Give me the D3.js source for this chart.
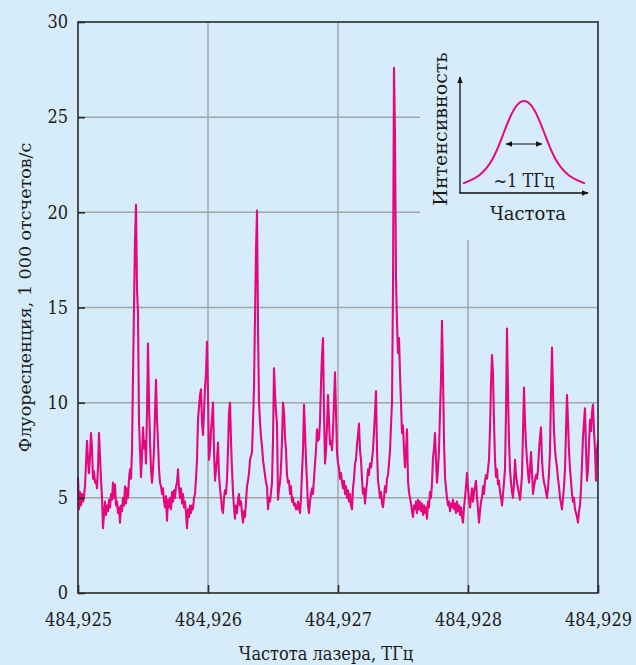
<!DOCTYPE html>
<html>
<head>
<meta charset="utf-8">
<script src="https://cdn.jsdelivr.net/npm/d3@7.9.0/dist/d3.min.js"></script>
<style>
  html, body { margin: 0; padding: 0; background: #d6ecfb; }
  svg { display: block; font-family: "DejaVu Serif Condensed", "DejaVu Serif", serif; }
</style>
</head>
<body>
<svg id="chart" width="636" height="665"></svg>
<script>
// laser scan range, THz
const scanStart = 484.925;
const scanEnd = 484.929;

// fluorescence, 1000 counts/s at even frequency steps
const fluorescence = [
  6.1, 4.4, 5.3, 4.6, 5.2, 4.8, 5.1, 5.6, 6.8, 8.0,
  7.0, 6.3, 7.2, 8.4, 7.6, 6.0, 6.4, 5.8, 5.9, 5.5,
  6.6, 8.4, 7.2, 6.0, 5.0, 3.4, 4.2, 4.8, 4.1, 4.6,
  4.3, 4.9, 4.5, 5.2, 4.9, 5.8, 5.0, 5.7, 4.6, 4.8,
  4.2, 4.5, 3.7, 4.6, 4.3, 5.0, 4.6, 5.6, 4.7, 5.5,
  5.0, 6.0, 6.5, 6.0, 7.5, 11.4, 15.0, 18.5, 20.4, 16.0,
  14.7, 9.0, 7.5, 6.1, 7.2, 8.7, 7.6, 8.0, 6.8, 9.5,
  13.1, 10.0, 8.0, 6.5, 5.8, 6.5, 7.5, 9.5, 11.2, 9.1,
  8.0, 6.5, 5.8, 5.6, 5.2, 5.5, 4.8, 4.5, 5.1, 3.8,
  4.9, 4.5, 5.0, 4.4, 5.3, 4.8, 5.4, 5.0, 5.6, 5.8,
  6.5, 5.5, 5.0, 5.5, 4.7, 5.2, 4.5, 4.8, 4.2, 3.4,
  4.4, 4.0, 4.6, 4.2, 4.6, 4.4, 5.0, 5.2, 6.0, 7.0,
  9.1, 9.8, 10.4, 10.7, 9.0, 8.3, 9.5, 10.8, 11.5, 13.2,
  10.5, 7.0, 7.5, 8.5, 9.2, 10.0, 7.5, 5.9, 6.5, 7.0,
  7.9, 6.2, 5.5, 5.0, 4.4, 4.2, 5.0, 5.4, 5.2, 6.0,
  7.5, 9.5, 10.0, 8.0, 6.5, 5.3, 4.5, 3.9, 4.6, 4.2,
  4.9, 5.2, 4.6, 4.8, 4.2, 3.7, 4.3, 4.0, 4.8, 5.6,
  5.9, 6.3, 7.0, 7.2, 7.4, 9.0, 10.8, 14.5, 18.0, 20.1,
  14.0, 10.0, 9.0, 8.2, 7.7, 7.0, 6.6, 6.2, 5.8, 5.6,
  4.4, 5.0, 4.8, 5.3, 5.8, 8.0, 11.8, 10.5, 9.5, 8.9,
  4.9, 5.5, 5.8, 6.6, 8.0, 10.0, 9.5, 8.2, 7.5, 6.2,
  5.8, 5.9, 5.2, 5.6, 4.8, 5.0, 4.6, 4.7, 4.4, 4.4,
  4.8, 4.5, 4.2, 5.0, 6.3, 7.5, 9.9, 8.5, 7.0, 5.8,
  4.6, 4.2, 4.8, 5.2, 5.5, 5.2, 6.0, 6.8, 7.5, 8.6,
  8.0, 8.1, 9.0, 11.0, 12.5, 13.4, 9.5, 6.8, 7.5, 8.8,
  10.4, 9.0, 7.8, 8.0, 7.5, 8.5, 10.0, 11.6, 9.5, 7.4,
  6.8, 6.6, 6.0, 6.3, 5.8, 5.5, 5.9, 5.2, 5.6, 5.0,
  5.4, 4.8, 5.2, 4.6, 4.4, 5.5, 6.0, 6.8, 7.0, 7.8,
  8.3, 8.9, 7.5, 7.0, 6.0, 5.2, 5.5, 4.7, 5.3, 5.8,
  6.5, 6.2, 6.8, 6.6, 7.0, 7.5, 8.5, 9.5, 10.6, 7.5,
  5.9, 5.5, 5.0, 5.3, 4.7, 4.5, 5.0, 5.6, 5.3, 6.0,
  6.2, 6.8, 7.5, 8.8, 10.0, 16.0, 27.6, 24.0, 16.5, 14.2,
  12.6, 13.4, 11.5, 10.0, 8.4, 8.8, 7.5, 6.6, 7.5, 8.6,
  5.9, 5.3, 5.0, 4.7, 4.3, 4.0, 4.6, 4.4, 4.8, 4.2,
  4.9, 4.4, 4.8, 4.3, 4.7, 4.1, 4.6, 4.2, 4.5, 3.9,
  4.8, 4.5, 5.3, 5.0, 5.8, 7.1, 7.6, 8.4, 7.0, 5.8,
  6.5, 7.5, 9.5, 11.2, 14.3, 11.5, 8.0, 6.1, 5.5, 5.0,
  4.6, 4.8, 4.3, 4.7, 4.5, 4.9, 4.4, 4.7, 4.2, 4.8,
  4.3, 4.6, 4.1, 4.5, 4.0, 3.7, 4.5, 5.0, 5.6, 6.3,
  5.5, 4.9, 4.5, 5.0, 5.5, 4.8, 5.3, 5.6, 5.9, 5.0,
  4.4, 3.7, 4.3, 4.8, 5.0, 5.6, 5.2, 5.9, 6.2, 6.0,
  6.5, 7.0, 8.6, 11.0, 12.5, 11.5, 9.0, 7.0, 6.1, 6.5,
  5.7, 5.9, 5.3, 5.0, 4.6, 5.2, 5.8, 6.5, 9.5, 13.9,
  10.5, 8.0, 6.5, 5.8, 5.3, 5.0, 5.8, 7.0, 6.2, 5.8,
  5.5, 5.2, 4.9, 5.5, 6.2, 8.5, 10.8, 9.0, 7.8, 7.0,
  6.3, 5.8, 6.5, 7.4, 6.4, 5.2, 5.6, 5.9, 6.2, 6.0,
  6.5, 7.5, 8.2, 8.7, 7.0, 6.2, 5.8, 5.6, 5.3, 5.0,
  5.5, 6.3, 7.5, 10.5, 12.9, 10.5, 8.5, 7.5, 7.0, 6.6,
  6.0, 5.6, 5.0, 4.7, 4.4, 5.0, 5.6, 6.5, 8.5, 10.4,
  9.0, 7.5, 6.5, 5.9, 5.2, 4.8, 5.0, 4.4, 4.2, 4.0,
  3.7, 4.3, 4.6, 5.5, 6.8, 8.2, 9.0, 9.7, 7.5, 5.9,
  6.5, 7.8, 9.1, 8.5, 9.5, 9.9, 8.5, 7.5, 5.9, 7.5,
  8.0
];

const freqTicks = [484.925, 484.926, 484.927, 484.928, 484.929];
const countTicks = [0, 5, 10, 15, 20, 25, 30];

// inset: schematic line profile (relative frequency, relative intensity)
const insetFreq = [-3, -2.2, -1.5, -1, -0.5, 0, 0.5, 1, 1.5, 2.2, 3];
const insetIntensity = [0.04, 0.11, 0.30, 0.61, 0.90, 1.0, 0.90, 0.61, 0.30, 0.11, 0.04];
const insetWidth = [-0.88, 0.88];

const margin = { top: 22, right: 38, bottom: 72, left: 78 };
const W = 636, H = 665;
const innerW = W - margin.left - margin.right;
const innerH = H - margin.top - margin.bottom;

const pink = "#e5077d";
const grid = "#a3a6a8";
const frame = "#2a2a2a";
const ink = "#1a1a1a";
const wideSerif = "\"DejaVu Serif\", serif";

const svg = d3.select("#chart");
const g = svg.append("g").attr("transform", `translate(${margin.left},${margin.top})`);

const x = d3.scaleLinear().domain([scanStart, scanEnd]).range([0, innerW]);
const y = d3.scaleLinear().domain([0, 30]).range([innerH, 0]);
const step = d3.scaleLinear().domain([0, fluorescence.length - 1]).range([scanStart, scanEnd]);

// grid
g.append("g").selectAll("line")
  .data(countTicks.slice(1, -1))
  .join("line")
  .attr("x1", 0).attr("x2", innerW)
  .attr("y1", d => y(d)).attr("y2", d => y(d))
  .attr("stroke", grid).attr("stroke-width", 1.5);

g.append("g").selectAll("line")
  .data(freqTicks.slice(1, -1))
  .join("line")
  .attr("x1", d => x(d)).attr("x2", d => x(d))
  .attr("y1", 0).attr("y2", innerH)
  .attr("stroke", grid).attr("stroke-width", 1.5);

// clear the grid behind the inset
const inset = { x0: 342, x1: innerW - 1, y0: 1, y1: 218 };
g.append("rect")
  .attr("x", inset.x0).attr("y", inset.y0)
  .attr("width", inset.x1 - inset.x0).attr("height", inset.y1 - inset.y0)
  .attr("fill", "#d6ecfb");

// trace
const line = d3.line()
  .x((d, i) => x(step(i)))
  .y(d => y(d));

g.append("path")
  .datum(fluorescence)
  .attr("d", line)
  .attr("fill", "none")
  .attr("stroke", pink)
  .attr("stroke-width", 2.1)
  .attr("stroke-linejoin", "round");

// frame
g.append("rect")
  .attr("width", innerW).attr("height", innerH)
  .attr("fill", "none").attr("stroke", frame).attr("stroke-width", 1.6);

// axes
const xAxis = d3.axisBottom(x)
  .tickValues(freqTicks)
  .tickSize(-8)
  .tickPadding(20)
  .tickFormat(d => d.toFixed(3).replace(".", ","));

const yAxis = d3.axisLeft(y)
  .tickValues(countTicks)
  .tickSize(-7)
  .tickPadding(10);

const gx = g.append("g").attr("transform", `translate(0,${innerH})`).call(xAxis);
const gy = g.append("g").call(yAxis);

[gx, gy].forEach(a => {
  a.select(".domain").remove();
  a.selectAll(".tick line").attr("stroke", frame).attr("stroke-width", 1.6);
  a.selectAll(".tick text")
    .attr("fill", ink)
    .style("font-size", "18px")
    .style("font-family", "\"DejaVu Serif Condensed\", \"DejaVu Serif\", serif");
});

// axis titles
svg.append("text")
  .attr("x", 326)
  .attr("y", 660)
  .attr("text-anchor", "middle")
  .attr("fill", ink)
  .style("font-size", "18px")
  .text("Частота лазера, ТГц");

svg.append("text")
  .attr("transform", `translate(31,${margin.top + innerH / 2 - 10}) rotate(-90)`)
  .attr("text-anchor", "middle")
  .attr("fill", ink)
  .style("font-size", "17.5px")
  .style("font-family", wideSerif)
  .text("Флуоресценция, 1 000 отсчетов/с");

// inset drawing
const ix = d3.scaleLinear().domain([-3, 3]).range([463, 585]);
const iy = d3.scaleLinear().domain([0, 1]).range([187, 98]);

const defs = svg.append("defs");
defs.append("marker")
  .attr("id", "arrow")
  .attr("viewBox", "0 0 10 10")
  .attr("refX", 9).attr("refY", 5)
  .attr("markerWidth", 7).attr("markerHeight", 7)
  .attr("markerUnits", "userSpaceOnUse")
  .attr("orient", "auto-start-reverse")
  .append("path")
  .attr("d", "M0,1 L10,5 L0,9 Z")
  .attr("fill", "#111");

const ig = svg.append("g");

ig.append("line")
  .attr("x1", 460).attr("y1", 193).attr("x2", 460).attr("y2", 77)
  .attr("stroke", "#111").attr("stroke-width", 1.3)
  .attr("marker-end", "url(#arrow)");
ig.append("line")
  .attr("x1", 459.4).attr("y1", 193).attr("x2", 588).attr("y2", 193)
  .attr("stroke", "#111").attr("stroke-width", 1.3)
  .attr("marker-end", "url(#arrow)");

ig.append("path")
  .datum(d3.zip(insetFreq, insetIntensity))
  .attr("d", d3.line().x(d => ix(d[0])).y(d => iy(d[1])).curve(d3.curveBasis))
  .attr("fill", "none")
  .attr("stroke", pink)
  .attr("stroke-width", 2);

ig.append("line")
  .attr("x1", ix(insetWidth[0])).attr("x2", ix(insetWidth[1]))
  .attr("y1", 144).attr("y2", 144)
  .attr("stroke", "#111").attr("stroke-width", 1.2)
  .attr("marker-start", "url(#arrow)")
  .attr("marker-end", "url(#arrow)");

ig.append("text")
  .attr("x", ix(0)).attr("y", 187)
  .attr("text-anchor", "middle")
  .attr("fill", ink)
  .style("font-size", "18px")
  .text("~1 ТГц");

ig.append("text")
  .attr("x", 528).attr("y", 220)
  .attr("text-anchor", "middle")
  .attr("fill", ink)
  .style("font-size", "18px")
  .style("font-family", wideSerif)
  .text("Частота");

ig.append("text")
  .attr("transform", "translate(447,129) rotate(-90)")
  .attr("text-anchor", "middle")
  .attr("fill", ink)
  .style("font-size", "19px")
  .style("font-family", wideSerif)
  .text("Интенсивность");
</script>
</body>
</html>
